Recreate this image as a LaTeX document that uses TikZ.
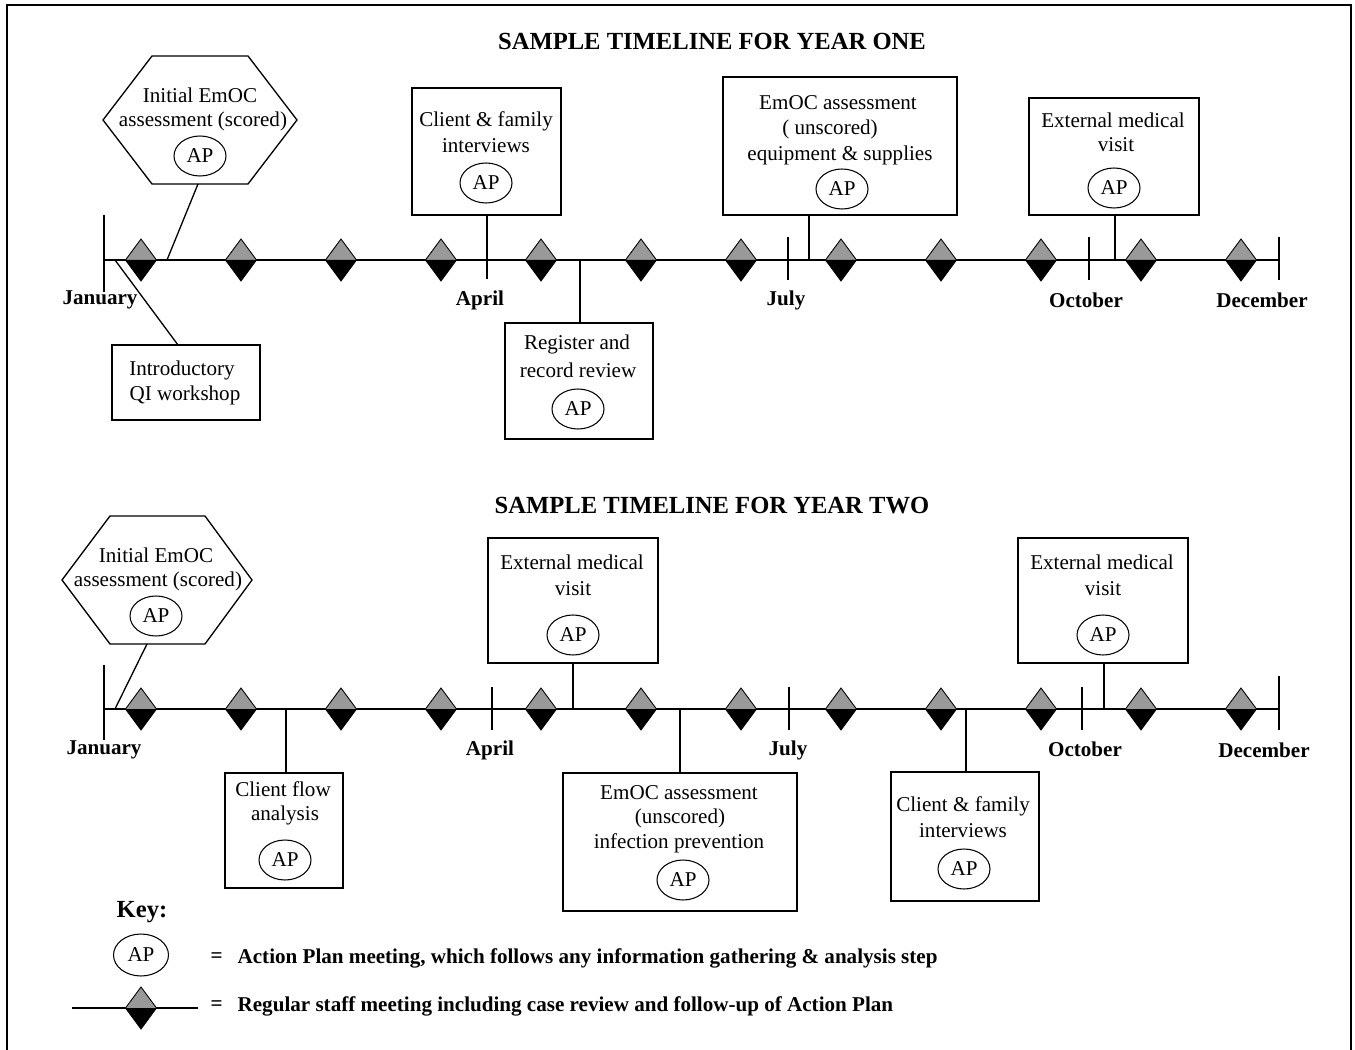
\documentclass[tikz,border=0pt]{standalone}
\usepackage{fontspec}
\setmainfont{Liberation Serif}
\usetikzlibrary{shapes.geometric,fit}
\definecolor{dgray}{RGB}{153,153,153}
\begin{document}
\begin{tikzpicture}[x=0.02cm,y=-0.02cm,
  line width=0.75pt,
  box/.style={draw,rectangle,inner sep=0pt},
  txt/.style={inner sep=0pt,font=\fontsize{12}{14}\selectfont},
  month/.style={inner sep=0pt,font=\fontsize{12}{14}\selectfont\bfseries},
  ttl/.style={inner sep=0pt,font=\fontsize{14}{16}\selectfont\bfseries},
  keytxt/.style={inner sep=0pt,anchor=west,font=\fontsize{12}{14}\selectfont\bfseries},
  ap/.style={draw,ellipse,inner sep=0pt,minimum width=1.04cm,minimum height=0.8cm,line width=0.6pt,font=\fontsize{12}{14}\selectfont},
  hexa/.style={draw,line width=0.75pt},
  staff/.pic={
    \fill[dgray] (-15.5,0)--(0,-21)--(15.5,0)--cycle;
    \fill[black] (-15.5,0)--(0,21)--(15.5,0)--cycle;
    \draw[line width=0.5pt] (-15.5,0)--(0,-21)--(15.5,0)--(0,21)--cycle;
  }]
\useasboundingbox (0,0) rectangle (1355,1050);
% frame
\draw[line width=1.2pt] (7,1050)--(7,5)--(1351,5)--(1351,1050);

% ================= YEAR ONE =================
\node[ttl] (title1) at (712,41) {SAMPLE TIMELINE FOR YEAR ONE};
\coordinate (a1) at (104,260);
\coordinate (b1) at (1279,260);
\draw (a1)--(b1);
% ticks
\coordinate (jan1t) at (104,215); \coordinate (jan1b) at (104,292);
\coordinate (jul1t) at (788,237); \coordinate (jul1b) at (788,280);
\coordinate (oct1t) at (1089,237); \coordinate (oct1b) at (1089,280);
\coordinate (dec1t) at (1279,237); \coordinate (dec1b) at (1279,280);
\draw (jan1t)--(jan1b);
\draw (jul1t)--(jul1b);
\draw (oct1t)--(oct1b);
\draw (dec1t)--(dec1b);
% months
\node[month] (m1a) at (100,300) {January};
\node[month] (m1b) at (480,300) {April};
\node[month] (m1c) at (786,300) {July};
\node[month] (m1d) at (1086,300) {October};
\node[month] (m1e) at (1262,300) {December};

% hexagon 1
\draw[hexa] (152,56)--(248,56)--(297,120)--(248,184)--(152,184)--(103,120)--cycle;
\coordinate (hex1b) at (198,184);
\coordinate (hex1l) at (167,260);
\node[txt] (h1t1) at (200,95) {Initial EmOC};
\node[txt] (h1t2) at (203,121) {assessment (scored)};
\node[ap] (h1ap) at (200,156) {AP};
\draw (hex1b)--(hex1l);

% introductory
\node[box,fit={(112,345)(260,420)}] (intro) {};
\node[txt] (introt1) at (182,370) {Introductory};
\node[txt] (introt2) at (185,395) {QI workshop};
\coordinate (intros) at (115,260);
\coordinate (introe) at (178,345);
\draw (intros)--(introe);

% client & family 1
\node[box,fit={(412,88)(561,215)}] (cf1) {};
\node[txt] (cf1t1) at (486,121) {Client \& family};
\node[txt] (cf1t2) at (486,146) {interviews};
\node[ap] (cf1ap) at (486,183) {AP};
\coordinate (cf1a) at (487,215);
\coordinate (cf1b) at (487,279);
\draw (cf1a)--(cf1b);

% register
\node[box,fit={(505,323)(653,439)}] (reg) {};
\node[txt] (regt1) at (577,344) {Register and};
\node[txt] (regt2) at (578,370) {record review};
\node[ap] (regap) at (578,409) {AP};
\coordinate (rega) at (580,260);
\coordinate (regb) at (580,323);
\draw (rega)--(regb);

% EmOC unscored equipment
\node[box,fit={(723,77)(957,215)}] (eq) {};
\node[txt] (eqt1) at (838,103) {EmOC assessment};
\node[txt] (eqt2) at (830,129) {( unscored)};
\node[txt] (eqt3) at (840,155) {equipment \& supplies};
\node[ap] (eqap) at (842,189) {AP};
\coordinate (eqa) at (809,215);
\coordinate (eqb) at (809,260);
\draw (eqa)--(eqb);

% external 1
\node[box,fit={(1029,98)(1199,215)}] (ex1) {};
\node[txt] (ex1t1) at (1113,120) {External medical};
\node[txt] (ex1t2) at (1116,145) {visit};
\node[ap] (ex1ap) at (1114,188) {AP};
\coordinate (ex1a) at (1115,215);
\coordinate (ex1b) at (1115,260);
\draw (ex1a)--(ex1b);

% diamonds year one
\foreach \x in {141,241,...,1241} { \pic at (\x,260) {staff}; }

% ================= YEAR TWO =================
\node[ttl] (title2) at (712,506) {SAMPLE TIMELINE FOR YEAR TWO};
\coordinate (a2) at (104,709);
\coordinate (b2) at (1279,709);
\draw (a2)--(b2);
\coordinate (jan2t) at (104,665); \coordinate (jan2b) at (104,740);
\coordinate (apr2t) at (492,687); \coordinate (apr2b) at (492,730);
\coordinate (jul2t) at (789,687); \coordinate (jul2b) at (789,730);
\coordinate (oct2t) at (1082,687); \coordinate (oct2b) at (1082,730);
\coordinate (dec2t) at (1279,676); \coordinate (dec2b) at (1279,730);
\draw (jan2t)--(jan2b);
\draw (apr2t)--(apr2b);
\draw (jul2t)--(jul2b);
\draw (oct2t)--(oct2b);
\draw (dec2t)--(dec2b);
\node[month] (m2a) at (104,750) {January};
\node[month] (m2b) at (490,750) {April};
\node[month] (m2c) at (788,750) {July};
\node[month] (m2d) at (1085,749) {October};
\node[month] (m2e) at (1264,750) {December};

% hexagon 2
\draw[hexa] (110,516)--(205,516)--(252,580)--(205,644)--(110,644)--(62,580)--cycle;
\coordinate (hex2b) at (147,644);
\coordinate (hex2l) at (115,709);
\node[txt] (h2t1) at (156,555) {Initial EmOC};
\node[txt] (h2t2) at (158,581) {assessment (scored)};
\node[ap] (h2ap) at (156,616) {AP};
\draw (hex2b)--(hex2l);

% client flow
\node[box,fit={(225,773)(343,888)}] (flow) {};
\node[txt] (flowt1) at (283,789) {Client flow};
\node[txt] (flowt2) at (285,815) {analysis};
\node[ap] (flowap) at (285,860) {AP};
\coordinate (flowa) at (286,709);
\coordinate (flowb) at (286,773);
\draw (flowa)--(flowb);

% external mid
\node[box,fit={(488,538)(658,663)}] (ex2) {};
\node[txt] (ex2t1) at (572,562) {External medical};
\node[txt] (ex2t2) at (573,589) {visit};
\node[ap] (ex2ap) at (573,635) {AP};
\coordinate (ex2a) at (573,663);
\coordinate (ex2b) at (573,709);
\draw (ex2a)--(ex2b);

% EmOC infection
\node[box,fit={(563,773)(797,911)}] (inf) {};
\node[txt] (inft1) at (679,793) {EmOC assessment};
\node[txt] (inft2) at (680,818) {(unscored)};
\node[txt] (inft3) at (679,843) {infection prevention};
\node[ap] (infap) at (683,880) {AP};
\coordinate (infa) at (680,709);
\coordinate (infb) at (680,773);
\draw (infa)--(infb);

% client & family 2
\node[box,fit={(891,772)(1039,901)}] (cf2) {};
\node[txt] (cf2t1) at (963,806) {Client \& family};
\node[txt] (cf2t2) at (963,831) {interviews};
\node[ap] (cf2ap) at (964,869) {AP};
\coordinate (cf2a) at (966,709);
\coordinate (cf2b) at (966,772);
\draw (cf2a)--(cf2b);

% external right
\node[box,fit={(1018,538)(1188,663)}] (ex3) {};
\node[txt] (ex3t1) at (1102,562) {External medical};
\node[txt] (ex3t2) at (1103,589) {visit};
\node[ap] (ex3ap) at (1103,635) {AP};
\coordinate (ex3a) at (1104,663);
\coordinate (ex3b) at (1104,709);
\draw (ex3a)--(ex3b);

\foreach \x in {141,241,...,1241} { \pic at (\x,709) {staff}; }

% ================= KEY =================
\node[inner sep=0pt,font=\fontsize{14}{16}\selectfont\bfseries] (keyl) at (142,912) {Key:};
\node[ap,minimum width=1.1cm,minimum height=0.84cm] (keyap) at (141,955) {AP};
\node[keytxt] (eq1) at (210,958) {=};
\node[keytxt] (k1) at (237,958) {Action Plan meeting, which follows any information gathering \& analysis step};
\coordinate (kla) at (72,1008);
\coordinate (klb) at (198,1008);
\draw (kla)--(klb);
\pic at (141,1008) {staff};
\node[keytxt] (eq2) at (210,1006) {=};
\node[keytxt] (k2) at (237,1006) {Regular staff meeting including case review and follow-up of Action Plan};
\end{tikzpicture}
\end{document}
